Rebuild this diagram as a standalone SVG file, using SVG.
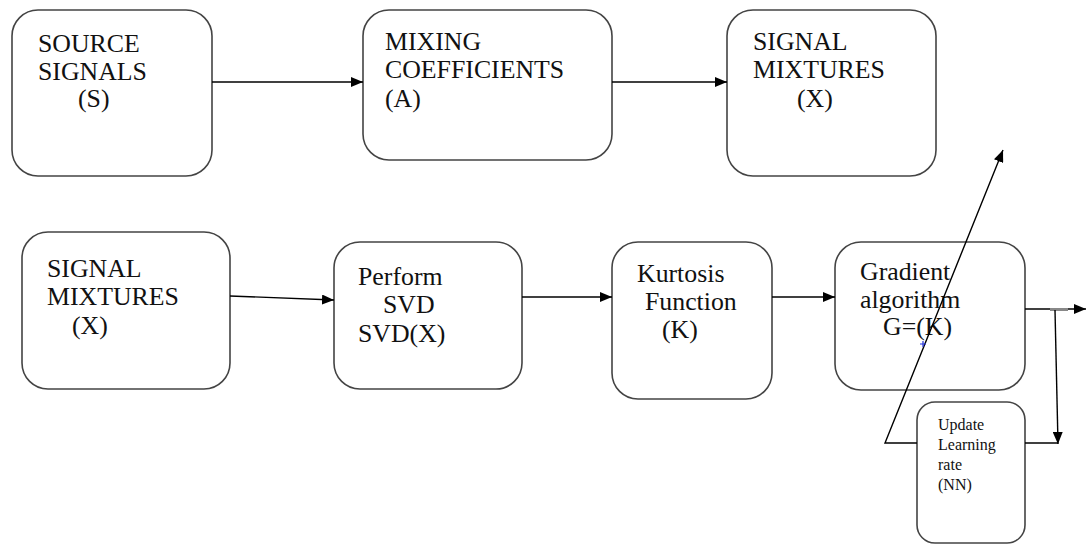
<svg xmlns="http://www.w3.org/2000/svg" width="1086" height="544" viewBox="0 0 1086 544">
  <defs>
    <marker id="ah" viewBox="0 0 12 10" refX="12" refY="5" markerWidth="12" markerHeight="10" markerUnits="userSpaceOnUse" orient="auto">
      <path d="M0,0 L12,5 L0,10 Z" fill="#000"/>
    </marker>
  </defs>
  <style>
    .box { fill: #fff; stroke: #444; stroke-width: 1.6; }
    .t { font-family: 'Liberation Serif', 'Times New Roman', serif; font-size: 25.8px; fill: #111; }
    .s { font-family: 'Liberation Serif', 'Times New Roman', serif; font-size: 16px; fill: #111; }
    .c { fill: none; stroke: #000; stroke-width: 1.4; }
  </style>
  <rect width="1086" height="544" fill="#fff"/>

  <g id="source">
    <rect class="box" x="12" y="10" width="200" height="166" rx="26"/>
    <text class="t" x="38" y="52">SOURCE</text>
    <text class="t" x="38" y="80">SIGNALS</text>
    <text class="t" x="78" y="107">(S)</text>
  </g>
  <g id="mixing">
    <rect class="box" x="363" y="10" width="249" height="150" rx="26"/>
    <text class="t" x="385" y="50">MIXING</text>
    <text class="t" x="385" y="78">COEFFICIENTS</text>
    <text class="t" x="385" y="107">(A)</text>
  </g>
  <g id="mixtures-top">
    <rect class="box" x="727" y="10" width="209" height="166" rx="26"/>
    <text class="t" x="753" y="50">SIGNAL</text>
    <text class="t" x="753" y="78">MIXTURES</text>
    <text class="t" x="797" y="107">(X)</text>
  </g>
  <g id="mixtures">
    <rect class="box" x="22" y="232" width="208" height="157" rx="26"/>
    <text class="t" x="47" y="277">SIGNAL</text>
    <text class="t" x="47" y="305">MIXTURES</text>
    <text class="t" x="72" y="334">(X)</text>
  </g>
  <g id="svd">
    <rect class="box" x="334" y="242" width="188" height="147" rx="26"/>
    <text class="t" x="358" y="285">Perform</text>
    <text class="t" x="383" y="313">SVD</text>
    <text class="t" x="358" y="342">SVD(X)</text>
  </g>
  <g id="kurtosis">
    <rect class="box" x="612" y="242" width="160" height="157" rx="26"/>
    <text class="t" x="637" y="282">Kurtosis</text>
    <text class="t" x="645" y="310">Function</text>
    <text class="t" x="662" y="338">(K)</text>
  </g>
  <g id="gradient">
    <rect class="box" x="835" y="242" width="190" height="148" rx="26"/>
    <text class="t" x="860" y="280">Gradient</text>
    <text class="t" x="860" y="308">algorithm</text>
    <text class="t" x="883" y="335">G=(K)</text>
  </g>
  <g id="update">
    <rect class="box" x="917" y="402" width="108" height="141" rx="18"/>
    <text class="s" x="938" y="430">Update</text>
    <text class="s" x="938" y="450">Learning</text>
    <text class="s" x="938" y="470">rate</text>
    <text class="s" x="938" y="490">(NN)</text>
  </g>

  <g id="connectors">
    <line class="c" x1="212" y1="82" x2="363" y2="82" marker-end="url(#ah)"/>
    <line class="c" x1="612" y1="82" x2="727" y2="82" marker-end="url(#ah)"/>
    <line class="c" x1="230" y1="296" x2="334" y2="300" marker-end="url(#ah)"/>
    <line class="c" x1="522" y1="297" x2="612" y2="297" marker-end="url(#ah)"/>
    <line class="c" x1="772" y1="297" x2="835" y2="297" marker-end="url(#ah)"/>
    <line class="c" x1="1025" y1="309" x2="1086" y2="309" marker-end="url(#ah)"/>
    <line x1="1050" y1="309.5" x2="1068" y2="309.5" stroke="#888" stroke-width="3"/>
    <line class="c" x1="1055" y1="310" x2="1058" y2="444" marker-end="url(#ah)"/>
    <line class="c" x1="1025" y1="443" x2="1058" y2="443"/>
    <polyline class="c" points="917,443 885,443 1003,150" marker-end="url(#ah)"/>
    <path d="M920,344 H926 M923,341 V347" stroke="#2233dd" stroke-width="1.2" fill="none"/>
  </g>
</svg>
